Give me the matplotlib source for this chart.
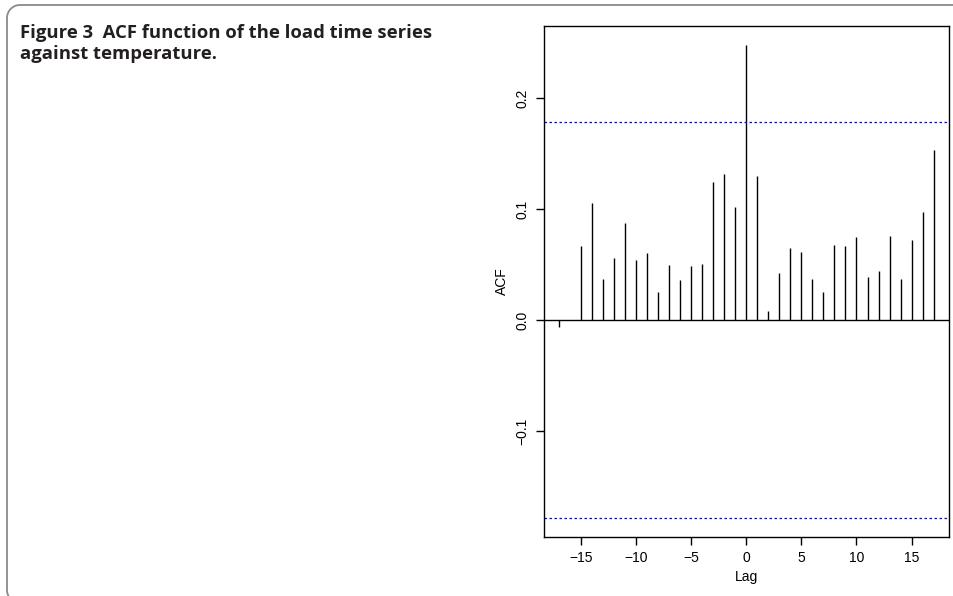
import numpy as np
import matplotlib
matplotlib.use("Agg")
import matplotlib.pyplot as plt

# Valeurs (ACF croisée charge / température)
lags = list(range(-17, 18))
acf_values = [-0.006, 0.0005, 0.067, 0.105, 0.037, 0.0556, 0.087, 0.0544,
              0.060, 0.025, 0.050, 0.0357, 0.049, 0.0505, 0.124, 0.1315,
              0.102, 0.2477, 0.130, 0.008, 0.042, 0.065, 0.0616, 0.037,
              0.025, 0.0676, 0.0664, 0.0745, 0.039, 0.0438, 0.0757, 0.037,
              0.072, 0.097, 0.153]
conf_limit = 0.178
x_ticks = [-15, -10, -5, 0, 5, 10, 15]
y_ticks = [-0.1, 0.0, 0.1, 0.2]
y_tick_labels = ["\u22120.1", "0.0", "0.1", "0.2"]
x_tick_labels = ["\u221215", "\u221210", "\u22125", "0", "5", "10", "15"]
title_lines = ["Figure 3  ACF function of the load time series",
               "against temperature."]

W, H = 954, 596
fig = plt.figure(figsize=(W / 100, H / 100), dpi=100)

# Fond en coordonnées pixels : cadre arrondi + légende de figure
bg = fig.add_axes([0, 0, 1, 1])
bg.set_xlim(0, W)
bg.set_ylim(H, 0)
bg.axis("off")
r = 13
phi = np.linspace(0, np.pi / 2, 20)
top_x = 20 - r * np.sin(phi)
top_y = 18 - r * np.cos(phi)
bot_x = 7 + r * (1 - np.cos(phi))
bot_y = 590 + r * np.sin(phi)
frame_x = np.concatenate([[W + 5], top_x, bot_x])
frame_y = np.concatenate([[5], top_y, bot_y])
bg.plot(frame_x, frame_y, color="#8a8a8a", linewidth=1.3, clip_on=False)
for i, line in enumerate(title_lines):
    bg.text(20, 38 + 21 * i, line, fontsize=13.3, fontweight="bold",
            family="Open Sans", va="baseline", ha="left", color="#231f20")

ax = fig.add_axes([543.7 / W, 1 - 536.7 / H, 405 / W, 510.7 / H])

ax.vlines(lags, 0, acf_values, color="black", linewidth=1)
ax.axhline(0, color="black", linewidth=1)
ax.axhline(conf_limit, color="blue", linestyle=(0, (2, 2)), linewidth=0.9)
ax.axhline(-conf_limit, color="blue", linestyle=(0, (2, 2)), linewidth=0.9)

ax.set_xlim(-18.36, 18.36)
ax.set_ylim(-0.195, 0.2647)

ax.set_xticks(x_ticks)
ax.set_xticklabels(x_tick_labels, family="Liberation Sans", fontsize=10)
ax.set_yticks(y_ticks)
ax.set_yticklabels(y_tick_labels, family="Liberation Sans", fontsize=10,
                   rotation=90, va="center")
ax.tick_params(direction="out", length=6, width=1, pad=4)
ax.set_xlabel("Lag", family="Liberation Sans", fontsize=10, labelpad=4)
ax.set_ylabel("ACF", family="Liberation Sans", fontsize=10, labelpad=5)
for s in ax.spines.values():
    s.set_linewidth(1)

fig.savefig("out.png", dpi=100)
